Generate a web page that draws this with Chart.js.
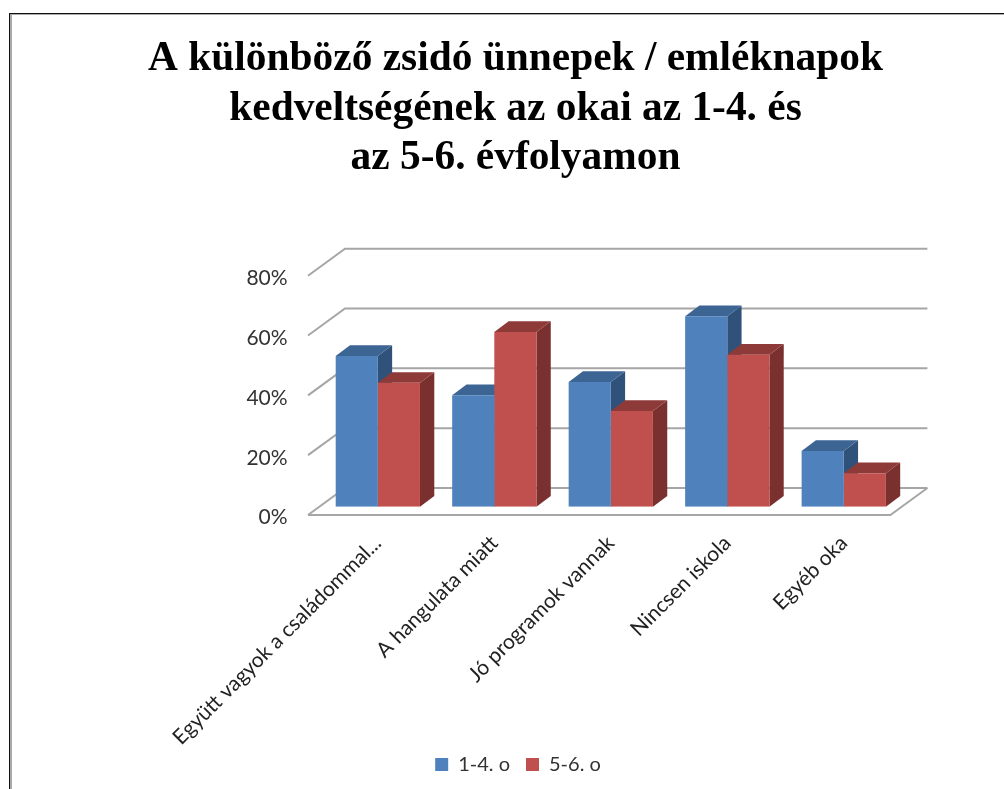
<!DOCTYPE html>
<html lang="hu">
<head>
<meta charset="utf-8">
<title>Ünnepek kedveltsége</title>
<script src="https://cdn.jsdelivr.net/npm/chart.js@4"></script>
<style>
    html, body { margin: 0; padding: 0; background: #fff; overflow: hidden; }
    #wrap { position: relative; width: 1004px; height: 789px; }
    #frame { position: absolute; left: 9px; top: 13px; right: 0; bottom: 0;
             border-top: 1px solid #111; border-left: 1px solid #111;
             box-shadow: inset 2px 1px 0 #aaa; }
    canvas { position: absolute; left: 0; top: 0; }
</style>
</head>
<body>
<div id="wrap">
    <div id="frame"></div>
    <canvas id="holidayChart" width="1004" height="789"></canvas>
</div>
<script>
const titleLines = [
    'A különböző zsidó ünnepek / emléknapok',
    'kedveltségének az okai az 1-4. és',
    'az 5-6. évfolyamon'
];
const categories = ['Együtt vagyok a családommal...', 'A hangulata miatt', 'Jó programok vannak', 'Nincsen iskola', 'Egyéb oka'];
const grade14 = [50.4, 37.3, 41.7, 63.7, 18.6];
const grade56 = [41.4, 58.4, 32, 50.8, 11.2];

// a 3D hatás eltolásai (px)
const barDepth = { x: 14.3, y: 10.7 };
const wallShift = { x: 25.4, y: -18.7 };
const floorShift = { x: -11.6, y: 8.3 };
const faces = [
    { top: '#3d6594', side: '#30527a' },
    { top: '#8e3a38', side: '#7a302e' }
];

// falak és rácsvonalak + az oszlopok teteje és oldala
const depthPlugin = {
    id: 'depth',
    afterLayout(chart) {
        // cím és jelmagyarázat középre igazítása a diagramtól függetlenül
        chart.titleBlock.left = 27;
        chart.titleBlock.right = 1004;
        chart.legend.left = 32;
        chart.legend.right = 1004;
        chart.legend.top = 738.5;
    },
    beforeDatasetsDraw(chart) {
        const c = chart.ctx;
        const { left, right } = chart.chartArea;
        const yScale = chart.scales.y;
        c.save();
        c.strokeStyle = '#a6a6a6';
        c.lineWidth = 2;
        yScale.ticks.forEach(t => {
            const y = yScale.getPixelForValue(t.value);
            c.beginPath();
            c.moveTo(left + floorShift.x, y + floorShift.y);
            c.lineTo(left + wallShift.x, y + wallShift.y);
            c.lineTo(right + wallShift.x, y + wallShift.y);
            c.stroke();
        });
        const y0 = yScale.getPixelForValue(0);
        c.beginPath();
        c.moveTo(left + floorShift.x, y0 + floorShift.y);
        c.lineTo(right + floorShift.x, y0 + floorShift.y);
        c.lineTo(right + wallShift.x, y0 + wallShift.y);
        c.stroke();

        chart.data.datasets.forEach((ds, i) => {
            chart.getDatasetMeta(i).data.forEach(bar => {
                const l = bar.x - bar.width / 2;
                const r = bar.x + bar.width / 2;
                c.fillStyle = faces[i].side;
                c.beginPath();
                c.moveTo(r, bar.y);
                c.lineTo(r + barDepth.x, bar.y - barDepth.y);
                c.lineTo(r + barDepth.x, bar.base - barDepth.y);
                c.lineTo(r, bar.base);
                c.closePath();
                c.fill();
                c.fillStyle = faces[i].top;
                c.beginPath();
                c.moveTo(l, bar.y);
                c.lineTo(l + barDepth.x, bar.y - barDepth.y);
                c.lineTo(r + barDepth.x, bar.y - barDepth.y);
                c.lineTo(r, bar.y);
                c.closePath();
                c.fill();
            });
        });
        c.restore();
    }
};

const ctx = document.getElementById('holidayChart').getContext('2d');
new Chart(ctx, {
    type: 'bar',
    plugins: [depthPlugin],
    data: {
        labels: categories,
        datasets: [
            { label: '1-4. o', data: grade14, backgroundColor: '#4f81bd' },
            { label: '5-6. o', data: grade56, backgroundColor: '#c0504d' }
        ]
    },
    options: {
        responsive: false,
        animation: false,
        events: [],
        // az alsó negatív margó azért kell, hogy a hosszú felirat ne vágódjon le a jelmagyarázatnál
        layout: { padding: { left: 0, right: 102, top: 35, bottom: -12 } },
        datasets: { bar: { categoryPercentage: 0.7236, barPercentage: 1 } },
        plugins: {
            tooltip: { enabled: false },
            title: {
                display: true,
                text: titleLines,
                color: '#000',
                font: { family: '"Liberation Serif"', size: 41.4, weight: 'bold', lineHeight: 1.195 },
                padding: { top: 0, bottom: 84 }
            },
            legend: {
                position: 'bottom',
                labels: {
                    color: '#333',
                    font: { family: 'Lato', size: 20 },
                    boxWidth: 13,
                    boxHeight: 13,
                    padding: 16
                }
            }
        },
        scales: {
            x: {
                grid: { display: false },
                border: { display: false },
                afterFit: s => { s.height = 248.3; },
                ticks: {
                    autoSkip: false,
                    minRotation: 45,
                    maxRotation: 45,
                    padding: 16,
                    color: '#222',
                    font: { family: 'Lato', size: 21 }
                }
            },
            y: {
                min: 0,
                max: 80,
                grid: { display: false },
                border: { display: false },
                afterFit: s => { s.width = 319.6; },
                ticks: {
                    stepSize: 20,
                    padding: 24,
                    labelOffset: 11,
                    color: '#333',
                    font: { family: 'Lato', size: 21 },
                    callback: v => v + '%'
                }
            }
        }
    }
});
</script>
</body>
</html>
